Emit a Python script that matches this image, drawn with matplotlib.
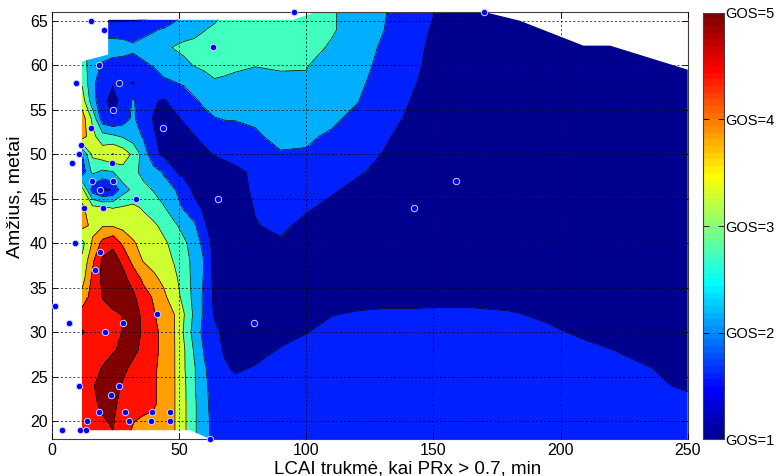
import numpy as np
import matplotlib
matplotlib.use("Agg")
import matplotlib.pyplot as plt
from matplotlib.colors import ListedColormap, Normalize
from matplotlib.patches import Polygon
from matplotlib.cm import ScalarMappable

plt.rcParams['font.family'] = ['Liberation Sans', 'DejaVu Sans']

# ---- interpolated GOS surface (rows from top y=66 down to y=18) ----
grid_x = [12, 16, 20, 24, 28, 32, 36, 40, 44, 48, 52, 56, 60, 64, 68, 72,
          80, 90, 100, 110, 120, 130, 140, 150, 165, 180, 195, 210, 230, 250]
grid_y = [66, 64, 62, 60, 58, 56, 54, 52, 50, 48, 46, 44, 42, 40, 38, 36,
          34, 32, 30, 28, 26, 24, 22, 20, 18]
gos_surface = [
    [2.0, 1.3, 1.1, 1.1, 1.1, 1.15, 1.2, 1.25, 1.35, 1.7, 1.95, 2.1, 2.2, 2.3, 2.5, 2.7,
     2.8, 2.85, 2.8, 2.55, 2.3, 2.05, 1.75, 1.52, 1.2, 1.0, 1.0, 1.0, 1.0, 1.0],
    [2.4, 2.0, 1.8, 1.8, 1.82, 1.85, 1.9, 1.95, 2.05, 2.2, 2.3, 2.35, 2.48, 2.6, 2.7, 2.8,
     2.85, 2.85, 2.75, 2.55, 2.3, 2.02, 1.75, 1.45, 1.2, 1.0, 1.0, 1.0, 1.0, 1.0],
    [2.6, 2.35, 2.2, 2.2, 2.15, 2.05, 2.12, 2.25, 2.4, 2.52, 2.6, 2.65, 2.7, 2.75, 2.8, 2.8,
     2.75, 2.75, 2.65, 2.45, 2.2, 1.95, 1.7, 1.4, 1.15, 1.0, 1.0, 1.0, 1.0, 1.0],
    [2.8, 2.15, 1.95, 1.85, 1.85, 1.9, 1.95, 2.02, 2.2, 2.3, 2.4, 2.52, 2.6, 2.65, 2.65, 2.6,
     2.52, 2.55, 2.52, 2.35, 2.15, 1.9, 1.65, 1.38, 1.1, 1.0, 1.0, 1.0, 1.0, 1.0],
    [2.95, 2.1, 1.75, 1.55, 1.6, 1.47, 1.7, 1.8, 1.9, 1.97, 2.05, 2.2, 2.3, 2.45, 2.4, 2.35,
     2.3, 2.4, 2.45, 2.25, 2.08, 1.85, 1.58, 1.35, 1.05, 1.0, 1.0, 1.0, 1.0, 1.0],
    [3.25, 2.2, 1.65, 1.3, 1.7, 2.05, 1.75, 1.55, 1.45, 1.62, 1.75, 1.93, 2.1, 2.2, 2.25, 2.25,
     2.25, 2.25, 2.2, 2.1, 2.02, 1.75, 1.52, 1.25, 1.0, 1.0, 1.0, 1.0, 1.0, 1.0],
    [3.75, 2.9, 1.7, 1.52, 1.75, 2.1, 1.65, 1.48, 1.3, 1.4, 1.55, 1.7, 1.85, 1.98, 2.02, 2.02,
     2.05, 2.15, 2.15, 2.07, 1.9, 1.68, 1.45, 1.2, 1.0, 1.0, 1.0, 1.0, 1.0, 1.0],
    [3.75, 3.15, 2.7, 2.6, 2.45, 2.25, 1.95, 1.55, 1.35, 1.25, 1.35, 1.48, 1.6, 1.7, 1.8, 1.85,
     1.95, 2.1, 2.05, 1.95, 1.75, 1.58, 1.35, 1.15, 1.0, 1.0, 1.0, 1.0, 1.0, 1.0],
    [2.0, 3.1, 3.3, 3.52, 3.3, 2.9, 2.3, 1.62, 1.42, 1.3, 1.25, 1.3, 1.42, 1.52, 1.6, 1.65,
     1.8, 1.97, 1.97, 1.85, 1.68, 1.49, 1.3, 1.1, 1.0, 1.0, 1.0, 1.0, 1.0, 1.0],
    [1.7, 2.6, 2.4, 2.48, 2.8, 2.6, 2.4, 2.2, 1.95, 1.55, 1.35, 1.25, 1.2, 1.25, 1.3, 1.4,
     1.58, 1.72, 1.72, 1.65, 1.55, 1.4, 1.2, 1.05, 1.0, 1.0, 1.0, 1.0, 1.0, 1.0],
    [3.2, 1.75, 1.35, 1.55, 2.3, 2.6, 2.6, 2.48, 2.2, 2.05, 1.75, 1.4, 1.25, 1.2, 1.25, 1.38,
     1.55, 1.65, 1.62, 1.55, 1.4, 1.25, 1.1, 1.0, 1.0, 1.0, 1.0, 1.0, 1.0, 1.0],
    [3.6, 3.15, 3.05, 2.98, 3.05, 3.1, 2.95, 2.7, 2.55, 2.2, 1.95, 1.65, 1.42, 1.25, 1.2, 1.3,
     1.52, 1.62, 1.55, 1.4, 1.25, 1.1, 1.0, 1.0, 1.0, 1.0, 1.0, 1.0, 1.0, 1.0],
    [3.65, 3.4, 3.45, 3.45, 3.35, 3.3, 3.2, 3.1, 2.85, 2.62, 2.3, 2.08, 1.55, 1.3, 1.15, 1.25,
     1.48, 1.58, 1.4, 1.28, 1.15, 1.05, 1.0, 1.0, 1.0, 1.0, 1.0, 1.0, 1.0, 1.0],
    [2.85, 3.55, 4.15, 4.4, 3.9, 3.55, 3.35, 3.25, 3.1, 2.85, 2.6, 2.25, 1.85, 1.3, 1.2, 1.2,
     1.4, 1.45, 1.3, 1.2, 1.1, 1.05, 1.0, 1.0, 1.0, 1.0, 1.0, 1.0, 1.0, 1.0],
    [3.1, 3.9, 4.6, 4.7, 4.4, 3.85, 3.48, 3.35, 3.2, 2.98, 2.7, 2.35, 1.98, 1.3, 1.2, 1.15,
     1.25, 1.3, 1.2, 1.15, 1.1, 1.05, 1.0, 1.0, 1.0, 1.0, 1.0, 1.0, 1.0, 1.0],
    [3.3, 4.1, 4.6, 4.75, 4.65, 4.3, 3.9, 3.6, 3.4, 3.15, 2.75, 2.35, 1.95, 1.35, 1.2, 1.15,
     1.1, 1.15, 1.15, 1.2, 1.25, 1.25, 1.25, 1.25, 1.25, 1.22, 1.2, 1.15, 1.12, 1.1],
    [3.7, 4.2, 4.52, 4.75, 4.75, 4.6, 4.2, 3.95, 3.6, 3.25, 2.85, 2.35, 1.9, 1.4, 1.25, 1.2,
     1.15, 1.2, 1.25, 1.3, 1.38, 1.4, 1.4, 1.42, 1.42, 1.38, 1.3, 1.25, 1.2, 1.15],
    [4.2, 4.3, 4.35, 4.4, 4.52, 4.7, 4.4, 4.05, 3.75, 3.52, 3.02, 2.4, 1.9, 1.45, 1.3, 1.2,
     1.25, 1.35, 1.45, 1.49, 1.53, 1.55, 1.55, 1.55, 1.55, 1.53, 1.45, 1.38, 1.3, 1.25],
    [4.55, 4.3, 4.3, 4.35, 4.52, 4.65, 4.45, 4.15, 3.85, 3.55, 2.95, 2.3, 1.85, 1.6, 1.4, 1.3,
     1.3, 1.4, 1.49, 1.58, 1.62, 1.64, 1.65, 1.65, 1.65, 1.62, 1.55, 1.45, 1.38, 1.3],
    [4.2, 4.3, 4.35, 4.45, 4.6, 4.6, 4.4, 4.15, 3.85, 3.55, 3.05, 2.45, 1.95, 1.65, 1.45, 1.35,
     1.4, 1.52, 1.6, 1.65, 1.68, 1.7, 1.7, 1.7, 1.7, 1.68, 1.63, 1.56, 1.45, 1.38],
    [4.2, 4.35, 4.52, 4.7, 4.6, 4.4, 4.25, 4.1, 3.8, 3.55, 3.05, 2.55, 2.05, 1.75, 1.55, 1.45,
     1.52, 1.6, 1.65, 1.7, 1.72, 1.72, 1.72, 1.72, 1.72, 1.72, 1.68, 1.63, 1.53, 1.43],
    [4.25, 4.45, 4.7, 4.7, 4.45, 4.3, 4.25, 4.1, 3.75, 3.55, 3.1, 2.55, 2.1, 1.8, 1.7, 1.6,
     1.62, 1.68, 1.72, 1.75, 1.75, 1.75, 1.75, 1.75, 1.75, 1.75, 1.72, 1.68, 1.6, 1.45],
    [4.25, 4.4, 4.6, 4.6, 4.35, 4.25, 4.2, 4.1, 3.75, 3.55, 3.1, 2.6, 2.1, 1.85, 1.8, 1.75,
     1.75, 1.77, 1.78, 1.8, 1.8, 1.8, 1.8, 1.8, 1.8, 1.78, 1.77, 1.75, 1.7, 1.6],
    [4.3, 4.35, 4.45, 4.55, 4.2, 4.02, 3.9, 3.85, 3.7, 3.55, 3.1, 2.6, 2.1, 1.9, 1.85, 1.8,
     1.78, 1.78, 1.8, 1.8, 1.8, 1.8, 1.8, 1.8, 1.8, 1.78, 1.77, 1.75, 1.72, 1.65],
    [4.3, 4.35, 4.4, 4.45, 4.1, 3.9, 3.8, 3.8, 3.7, 3.55, 3.1, 2.6, 2.1, 1.9, 1.85, 1.82,
     1.8, 1.8, 1.8, 1.8, 1.8, 1.8, 1.8, 1.8, 1.8, 1.8, 1.78, 1.76, 1.74, 1.7],
]

# outline of the region covered by the interpolation
outline_x = [11.6, 54.4, 62.3, 250, 250, 219.5, 209, 184, 169.7, 104, 95, 22.2, 22.2, 11.6]
outline_y = [19, 19, 18, 18, 59.5, 62.2, 62.2, 65, 66, 66, 65.1, 65.1, 61.2, 60.4]

# patients: LCAI duration (min) and age (years)
patient_x = [15.5, 20.6, 63.5, 18.7, 9.5, 26.6, 24.0, 15.3, 43.7, 11.6, 10.8, 7.9, 23.8,
             15.7, 24.0, 19.1, 33.0, 65.3, 12.6, 20.3, 9.3, 19.1, 17.0, 1.3, 6.7, 41.5,
             28.2, 21.0, 79.6, 10.6, 26.5, 23.2, 18.7, 28.8, 39.5, 46.6, 13.8, 30.3, 38.9,
             46.6, 4.2, 11.1, 13.5, 62.3, 95.4, 170.0, 158.8, 142.5]
patient_y = [65, 64, 62, 60, 58, 58, 55, 53, 53, 51, 50, 49, 49,
             47, 47, 46, 45, 45, 44, 44, 40, 39, 37, 33, 31, 32,
             31, 30, 31, 24, 24, 23, 21, 21, 21, 21, 20, 20, 20,
             20, 19, 19, 19, 18, 66, 66, 47, 44]

gos_levels = [1, 1.5, 2, 2.5, 3, 3.5, 4, 4.5, 5]
gos_ticks = [1, 2, 3, 4, 5]
gos_labels = ['GOS=1', 'GOS=2', 'GOS=3', 'GOS=4', 'GOS=5']


def jet64():
    """64-entry jet colormap."""
    m = 64
    n = int(np.ceil(m / 4))
    u = np.concatenate([np.arange(1, n + 1) / n, np.ones(n - 1), np.arange(n, 0, -1) / n])
    g = int(np.ceil(n / 2)) - (1 if m % 4 == 1 else 0) + np.arange(1, len(u) + 1)
    r = g + n
    b = g - n
    J = np.zeros((m, 3))
    ok = r <= m
    J[r[ok] - 1, 0] = u[ok]
    ok = g <= m
    J[g[ok] - 1, 1] = u[ok]
    ok = b >= 1
    J[b[ok] - 1, 2] = u[ok]
    return J


jet = jet64()
nb = len(gos_levels) - 1
band_colors = [jet[int(round(k * 63 / (nb - 1)))] for k in range(nb)]

X, Y = np.meshgrid(grid_x, grid_y)
Z = np.array(gos_surface)

fig = plt.figure(figsize=(7.77, 4.76), dpi=100)
ax = fig.add_axes([51.7 / 777, 1 - 439.1 / 476, 636 / 777, 427.3 / 476])

domain = Polygon(np.column_stack([outline_x, outline_y]), closed=True,
                 transform=ax.transData, facecolor='none', edgecolor='none')

cf = ax.contourf(X, Y, Z, levels=gos_levels, colors=band_colors, zorder=1)
cf.set_clip_path(domain)
cl = ax.contour(X, Y, Z, levels=gos_levels[1:-1], colors='k', linewidths=0.5, zorder=1.5)
cl.set_clip_path(domain)

ax.plot(patient_x, patient_y, 'o', ms=4.6, mfc=(0, 0, 1), mec=(0.82, 0.82, 1.0),
        mew=0.7, clip_on=False, zorder=5)

ax.set_xlim(0, 250)
ax.set_ylim(18, 66)
ax.set_xticks(np.arange(0, 251, 50))
ax.set_yticks(np.arange(20, 66, 5))
ax.set_axisbelow(False)
ax.grid(True, color='k', linestyle=(0, (3, 3)), linewidth=0.5)
ax.tick_params(direction='in', length=4, width=0.6, top=True, right=True,
               labelsize=11.5, pad=3)
for s in ax.spines.values():
    s.set_edgecolor('#404040')
    s.set_linewidth(0.8)

fig.text(408 / 777, 1 - 473.5 / 476, 'LCAI trukmė, kai PRx > 0.7, min',
         ha='center', va='baseline', fontsize=13.5)
fig.text(15.5 / 777, 1 - 197 / 476, 'Amžius, metai', rotation=90,
         ha='center', va='center', fontsize=14)

cax = fig.add_axes([703.3 / 777, 1 - 439.3 / 476, 20.7 / 777, 426.6 / 476])
sm = ScalarMappable(norm=Normalize(1, 5), cmap=ListedColormap(jet))
cb = fig.colorbar(sm, cax=cax, ticks=gos_ticks)
cb.ax.set_yticklabels(gos_labels)
cb.ax.tick_params(direction='in', length=4, width=0.6, left=True, right=True,
                  labelsize=10.5, pad=1)
cb.outline.set_edgecolor('#404040')
cb.outline.set_linewidth(0.8)

fig.savefig('out.png', dpi=100)
